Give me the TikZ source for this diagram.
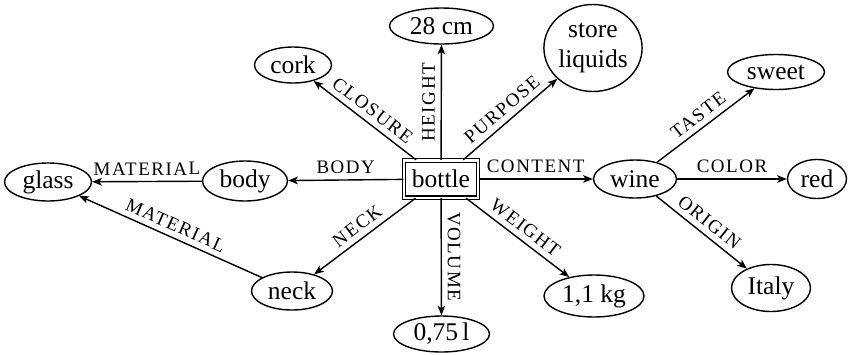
\documentclass[tikz,border=0pt]{standalone}
\usepackage{fontspec}
\setmainfont{Liberation Serif}
\newfontfamily\lblfont[LetterSpace=8]{Liberation Serif}
\usetikzlibrary{arrows.meta,shapes.geometric}

\begin{document}
\begin{tikzpicture}[x=0.5pt,y=-0.5pt,
  every node/.style={font=\fontsize{12.75}{15}\selectfont},
  val/.style 2 args={ellipse,draw,line width=0.7pt,inner sep=0pt,
    minimum width=#1*0.5pt,minimum height=#2*0.5pt},
  concept/.style={rectangle,draw,double,line width=0.6pt,double distance=1.1pt,
    inner sep=0pt,minimum width=37pt,minimum height=18.6pt},
  rel/.style={-{Stealth[length=4.8pt,width=3.8pt,inset=1.2pt]},line width=0.7pt},
  lbl/.style={midway,above,sloped,inner sep=2.8pt,
    font=\lblfont\fontsize{9.5}{10}\selectfont},
]
\useasboundingbox (0,0) rectangle (850,354);

% central concept
\node[concept] (bottle) at (441,179) {bottle};

% attribute values
\node[val={104}{36}] (height) at (441.5,26) {28 cm};
\node[val={97}{87},align=center] (purpose) at (593,48) {store\\liquids};
\node[val={77}{36}] (cork) at (293,65) {cork};
\node[val={85}{40}] (body) at (245,181) {body};
\node[val={87}{38}] (glass) at (48,182) {glass};
\node[val={81}{38}] (neck) at (292,291) {neck};
\node[val={96}{36}] (volume) at (441.5,334) {0,75\,l};
\node[val={100}{42}] (weight) at (594,296) {1,1 kg};
\node[val={83}{38}] (wine) at (635,179) {wine};
\node[val={97}{35}] (sweet) at (776,72) {sweet};
\node[val={59}{39}] (red) at (817,179) {red};
\node[val={79}{47}] (italy) at (771,288) {Italy};

% relations of the bottle
\draw[rel] (bottle) -- node[lbl] {HEIGHT} (height);
\draw[rel] (bottle) -- node[lbl] {PURPOSE} (purpose);
\draw[rel] (bottle) -- node[lbl] {CLOSURE} (cork);
\draw[rel] (bottle) -- node[lbl] {BODY} (body);
\draw[rel] (bottle) -- node[lbl] {NECK} (neck);
\draw[rel] (bottle) -- node[lbl] {VOLUME} (volume);
\draw[rel] (bottle) -- node[lbl] {WEIGHT} (weight);
\draw[rel] (bottle) -- node[lbl] {CONTENT} (wine);

% materials
\draw[rel] (body) -- node[lbl] {MATERIAL} (glass);
\draw[rel] (neck) -- node[lbl] {MATERIAL} (glass);

% relations of the wine
\draw[rel] (wine) -- node[lbl] {TASTE} (sweet);
\draw[rel] (wine) -- node[lbl] {COLOR} (red);
\draw[rel] (wine) -- node[lbl] {ORIGIN} (italy);
\end{tikzpicture}
\end{document}
